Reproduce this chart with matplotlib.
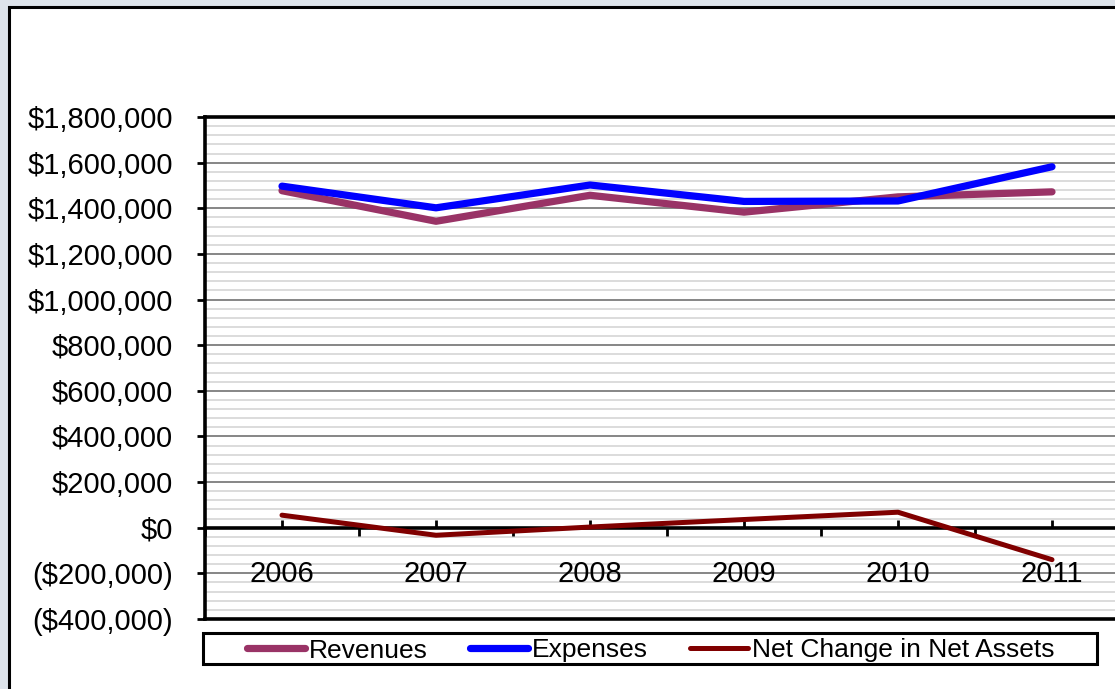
import matplotlib
matplotlib.use("Agg")
import matplotlib.pyplot as plt
from matplotlib.patches import Rectangle
from matplotlib.lines import Line2D
from matplotlib.ticker import FuncFormatter, MultipleLocator, FixedLocator

plt.rcParams['font.family'] = ['Liberation Sans', 'DejaVu Sans']

years = ['2006', '2007', '2008', '2009', '2010', '2011']
revenues = [1477000, 1343000, 1457000, 1383000, 1450000, 1472000]
expenses = [1497000, 1402000, 1502000, 1430000, 1432000, 1582000]
net_change = [55000, -33000, 3000, 36000, 68000, -140000]

W, H = 1115, 689
fig = plt.figure(figsize=(W / 100, H / 100), dpi=100)
fig.patch.set_facecolor('#dde3ea')

# white panel with black border (extends past right/bottom edge)
panel = Rectangle((9 / W, -0.1), 1.2, 1 - 7 / H + 0.1, transform=fig.transFigure,
                  facecolor='white', edgecolor='black', linewidth=2.2, zorder=-10)
fig.patches.append(panel)

left, right = 205 / W, 1129 / W
bottom, top = 1 - 619 / H, 1 - 117 / H
ax = fig.add_axes([left, bottom, right - left, top - bottom])
ax.set_facecolor('white')

x = list(range(len(years)))
ax.plot(x, revenues, color='#993366', lw=5.2, solid_capstyle='round', solid_joinstyle='round',
        label='Revenues', zorder=3)
ax.plot(x, expenses, color='#0000ff', lw=5.2, solid_capstyle='round', solid_joinstyle='round',
        label='Expenses', zorder=4)
ax.plot(x, net_change, color='#800000', lw=3.6, solid_capstyle='round', solid_joinstyle='round',
        label='Net Change in Net Assets', zorder=5)

ax.set_xlim(-0.5, len(years) - 0.5)
ax.set_ylim(-400000, 1800000)

# y axis
ax.yaxis.set_major_locator(MultipleLocator(200000))
ax.yaxis.set_minor_locator(MultipleLocator(40000))


def money(v, pos=None):
    v = int(round(v))
    if v < 0:
        return '(${:,})'.format(-v)
    return '${:,}'.format(v)


ax.yaxis.set_major_formatter(FuncFormatter(money))
ax.tick_params(axis='y', which='major', direction='out', length=6, width=2,
               labelsize=21, pad=17, colors='black')
ax.tick_params(axis='y', which='minor', length=0)
ax.grid(axis='y', which='minor', color='#dcdcdc', lw=1.4)
ax.grid(axis='y', which='major', color='#666666', lw=1.1)
ax.set_axisbelow(True)
ax.xaxis.set_zorder(2.5)

# x axis crossing at zero
ax.spines['bottom'].set_position(('data', 0))
ax.spines['bottom'].set_linewidth(2.6)
ax.spines['bottom'].set_zorder(2.6)
ax.spines['left'].set_linewidth(2.6)
ax.spines['top'].set_linewidth(2.6)
ax.spines['right'].set_visible(False)
ax.xaxis.set_major_locator(FixedLocator(x))
ax.set_xticklabels(years)
ax.xaxis.set_minor_locator(FixedLocator([i - 0.5 for i in range(len(years) + 1)]))
ax.tick_params(axis='x', which='major', direction='in', length=6, width=2,
               labelsize=21, pad=23)
ax.tick_params(axis='x', which='minor', direction='out', length=6, width=2)
# bottom edge of plot area
ax.add_line(Line2D([0, 1], [0, 0], transform=ax.transAxes, color='black', lw=2.6,
                   clip_on=False, zorder=6))

# legend
box = Rectangle((203 / W, 1 - 664 / H), (1097 - 203) / W, 31 / H, transform=fig.transFigure,
                facecolor='white', edgecolor='black', linewidth=2.2, zorder=5)
fig.patches.append(box)
leg = fig.legend(loc='center', bbox_to_anchor=(651 / W, 1 - 650.5 / H), ncol=3,
                 frameon=False, fontsize=19, handlelength=2.2, handletextpad=0.15,
                 columnspacing=1.6, borderpad=0, borderaxespad=0)

fig.savefig('out.png', dpi=100, facecolor=fig.get_facecolor())
